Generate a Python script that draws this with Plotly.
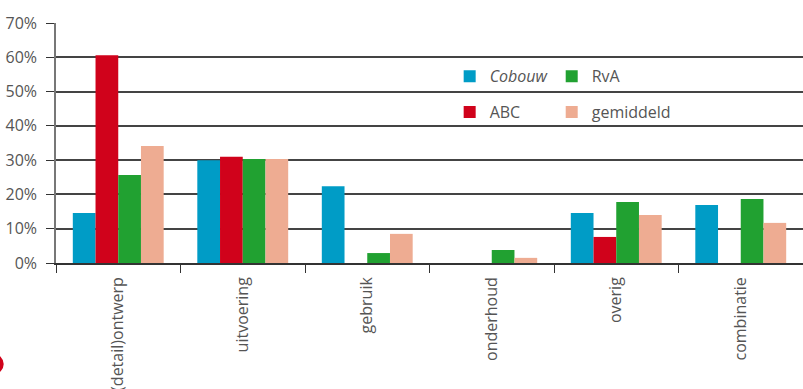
import plotly.graph_objects as go

# Share of failure causes per phase, by source
categories = ["(detail)ontwerp", "uitvoering", "gebruik", "onderhoud", "overig", "combinatie"]
cobouw = [14.6, 30.0, 22.4, 0.0, 14.6, 16.9]
abc = [60.6, 31.0, 0.0, 0.0, 7.6, 0.0]
rva = [25.7, 30.3, 2.9, 3.8, 17.8, 18.7]
gemiddeld = [34.1, 30.3, 8.5, 1.5, 14.0, 11.7]
y_ticks = [0, 10, 20, 30, 40, 50, 60, 70]
y_tick_labels = [f"{v}%" for v in y_ticks]

FONT = "Open Sans"
TEXT = "#555555"

fig = go.Figure()
series = [
    ("<i>Cobouw</i>", cobouw, "#009cc6", "legend"),
    ("ABC", abc, "#d0021b", "legend"),
    ("RvA", rva, "#21a131", "legend2"),
    ("gemiddeld", gemiddeld, "#eeac92", "legend2"),
]
for name, vals, color, leg in series:
    fig.add_trace(go.Bar(x=categories, y=vals, name=name, marker_color=color,
                         marker_line_width=0, legend=leg, legendgroup=name))

# two vertical legend columns, one group per entry so rows get extra spacing
legend_common = dict(orientation="v", bgcolor="rgba(0,0,0,0)", itemwidth=30,
                     font=dict(family=FONT, size=16, color=TEXT),
                     xanchor="left", yanchor="middle", traceorder="grouped",
                     tracegroupgap=12)

fig.update_layout(
    width=803, height=389,
    margin=dict(l=56, r=0, t=23, b=126),
    paper_bgcolor="white", plot_bgcolor="white",
    barmode="group", bargap=0.27, bargroupgap=0,
    font=dict(family=FONT, size=16, color=TEXT),
    legend=dict(x=0.527, y=0.703, **legend_common),
    legend2=dict(x=0.6636, y=0.703, **legend_common),
    xaxis=dict(
        tickangle=-90, tickson="boundaries", ticks="outside", ticklen=8,
        tickcolor="#333", tickwidth=1, showline=True, linecolor="#333",
        linewidth=1.5, showgrid=False, automargin=False,
        ticklabelstandoff=6,
        tickfont=dict(family=FONT, size=16, color=TEXT),
    ),
    yaxis=dict(
        range=[0, 70], tickvals=y_ticks, ticktext=y_tick_labels,
        ticks="outside", ticklen=8, tickcolor="#333", tickwidth=1,
        showline=True, linecolor="#777", linewidth=1.5,
        showgrid=True, gridcolor="#444", gridwidth=1.5,
        zeroline=False, automargin=False, ticklabelstandoff=6,
        tickfont=dict(family=FONT, size=16, color=TEXT),
    ),
    shapes=[dict(type="circle", xref="paper", yref="paper",
                 x0=-0.097, x1=-0.070, y0=-0.463, y1=-0.379,
                 fillcolor="#d0021b", line_width=0, layer="above")],
)

fig.write_html("out.html")
